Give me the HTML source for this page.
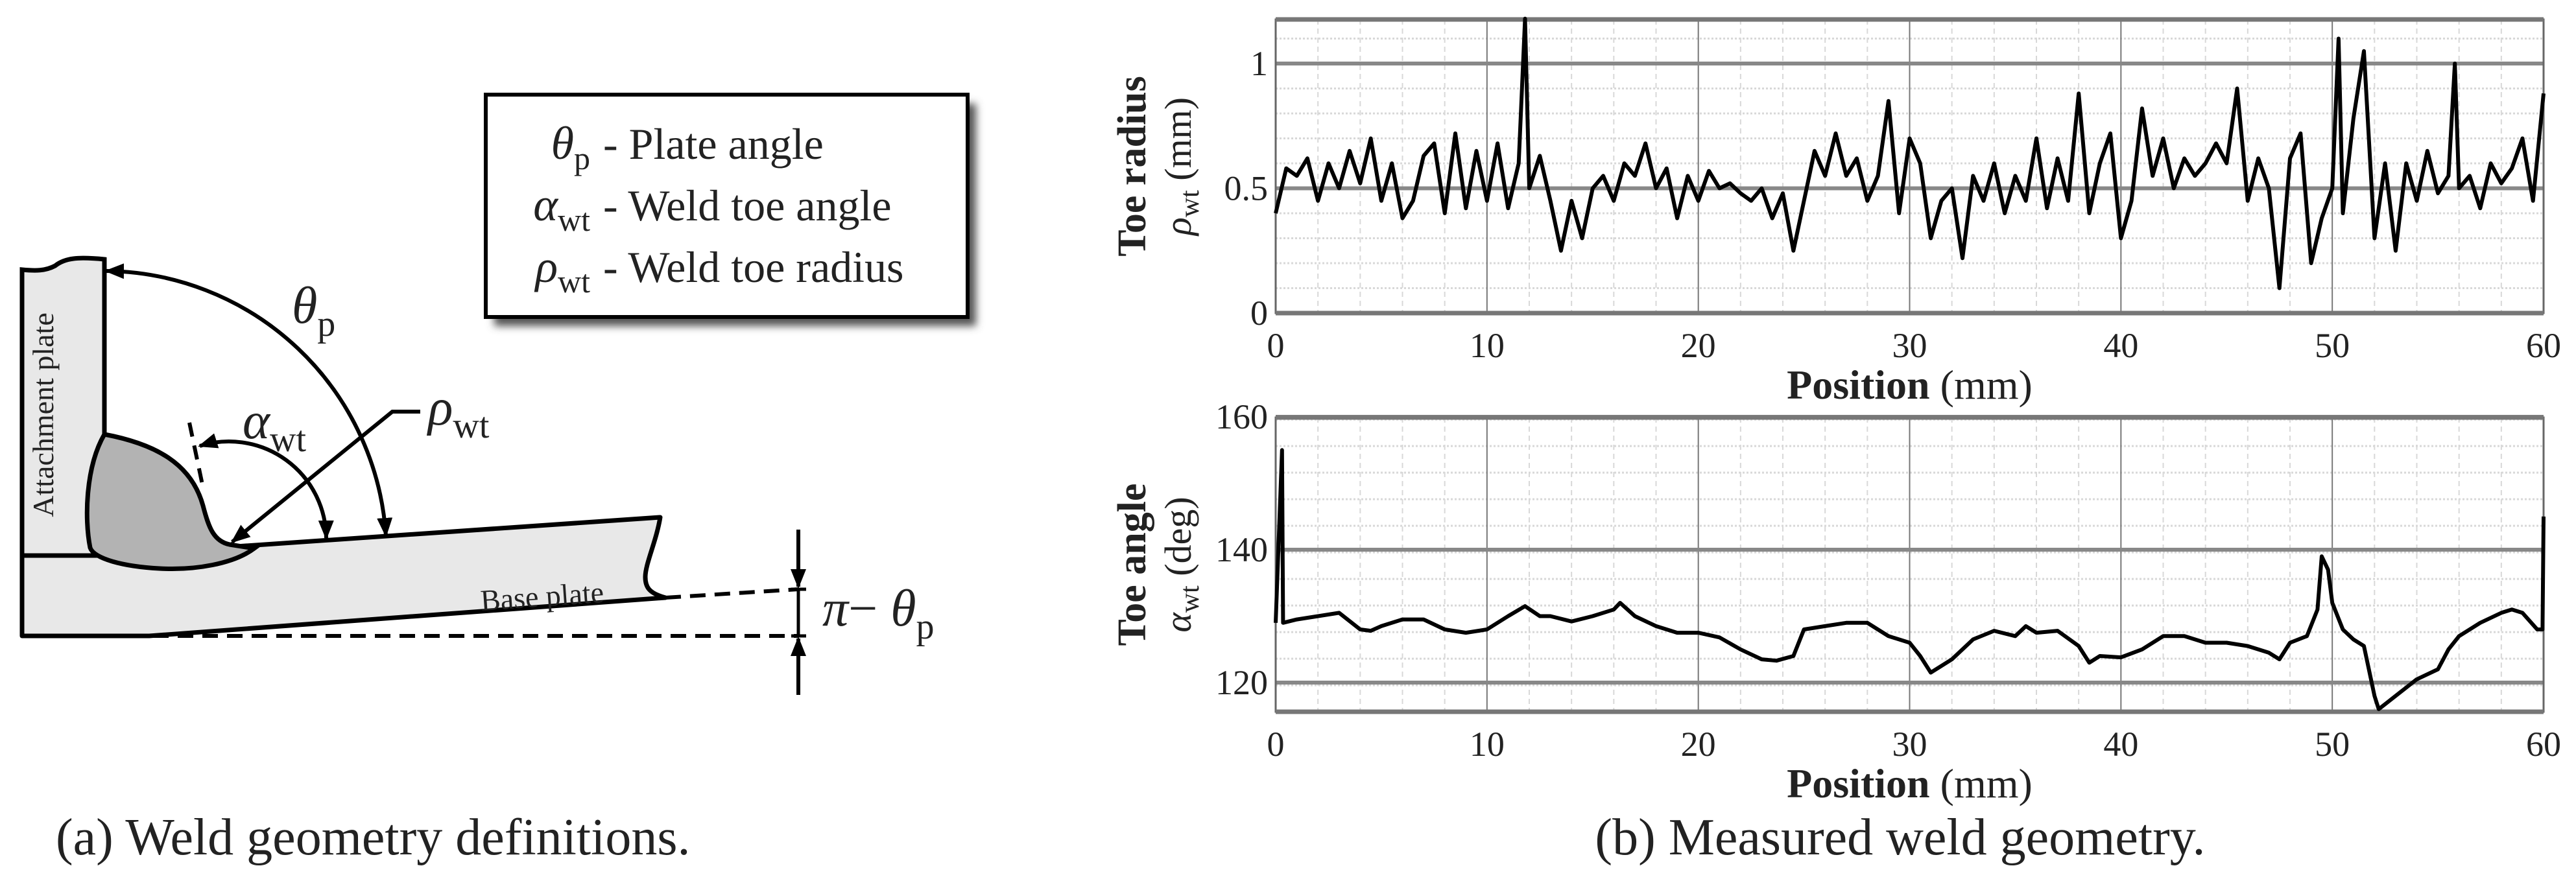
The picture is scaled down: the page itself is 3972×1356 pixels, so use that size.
<!DOCTYPE html>
<html><head><meta charset="utf-8"><style>
html,body{margin:0;padding:0;background:#fff;}
svg{display:block;}
svg text{font-family:"Liberation Serif","DejaVu Serif",serif;fill:#222;}
</style></head><body>
<svg id="fig" width="3972" height="1356" viewBox="0 0 3972 1356" xmlns="http://www.w3.org/2000/svg" font-family="Liberation Serif, DejaVu Serif, serif">
<defs>
<marker id="ah" viewBox="0 0 10 10" refX="9" refY="5" markerWidth="5" markerHeight="5" orient="auto-start-reverse" markerUnits="strokeWidth"><path d="M0,1 L10,5 L0,9 z" fill="#000"/></marker>
<filter id="sh" x="-10%" y="-10%" width="130%" height="130%"><feGaussianBlur stdDeviation="6"/></filter>
</defs>
<g id="diagram">
<path d="M34,857 L34,416 C55,418 70,418 85,410 C100,398 120,396 161,400 L161,857 Z" fill="#e8e8e8" stroke="#000" stroke-width="7"/>
<path d="M34,857 L161,857 L1018,798 C1012,835 995,870 995,890 C995,905 1000,915 1026,922 L230,981 L34,981 Z" fill="#e8e8e8" stroke="#000" stroke-width="7" stroke-linejoin="round"/>
<path d="M161,670 C240,685 295,715 313,780 C322,815 330,835 354,840 L392,846 C360,870 300,880 246,877 C190,874 145,862 139,845 C130,800 132,720 161,670 Z" fill="#b3b3b3" stroke="#000" stroke-width="7"/>
<path d="M595,826 A437,437 0 0 0 164,418" fill="none" stroke="#000" stroke-width="6" marker-start="url(#ah)" marker-end="url(#ah)"/>
<path d="M503,830 A150,150 0 0 0 308,688" fill="none" stroke="#000" stroke-width="6" marker-start="url(#ah)" marker-end="url(#ah)"/>
<line x1="292" y1="652" x2="313" y2="752" stroke="#000" stroke-width="6" stroke-dasharray="22,14"/>
<polyline points="648,635 605,635 358,836" fill="none" stroke="#000" stroke-width="6" marker-end="url(#ah)"/>
<line x1="1026" y1="922" x2="1231" y2="909" stroke="#000" stroke-width="6" stroke-dasharray="24,14"/>
<line x1="236" y1="981" x2="1231" y2="981" stroke="#000" stroke-width="6" stroke-dasharray="24,14"/>
<line x1="1231" y1="817" x2="1231" y2="905" stroke="#000" stroke-width="6" marker-end="url(#ah)"/>
<line x1="1231" y1="1072" x2="1231" y2="985" stroke="#000" stroke-width="6" marker-end="url(#ah)"/>
<line x1="1231" y1="909" x2="1231" y2="981" stroke="#000" stroke-width="5"/>
<line x1="1220" y1="909" x2="1243" y2="909" stroke="#000" stroke-width="5"/>
<line x1="1220" y1="981" x2="1243" y2="981" stroke="#000" stroke-width="5"/>
<text x="0" y="0" font-size="46" text-anchor="middle" transform="translate(82,640) rotate(-90)">Attachment plate</text>
<text x="0" y="0" font-size="46" transform="translate(742,942) rotate(-4)">Base plate</text>
<text x="450" y="498" font-size="80" font-style="italic">θ<tspan font-style="normal" font-size="56" dy="20">p</tspan></text>
<text x="374" y="676" font-size="80" font-style="italic">α<tspan font-style="normal" font-size="56" dy="20">wt</tspan></text>
<text x="660" y="655" font-size="80" font-style="italic">ρ<tspan font-style="normal" font-size="56" dy="20">wt</tspan></text>
<text x="1268" y="965" font-size="80"><tspan font-style="italic">π</tspan>− <tspan font-style="italic">θ</tspan><tspan font-size="56" dy="20">p</tspan></text>
<g>
<rect x="762" y="160" width="743" height="343" fill="#555" filter="url(#sh)"/>
<rect x="749" y="146" width="743" height="343" fill="#fff" stroke="#000" stroke-width="6"/>
<text x="910" y="245" font-size="72" text-anchor="end"><tspan font-style="italic">θ</tspan><tspan font-size="50" dy="16">p</tspan></text>
<text x="930" y="245" font-size="68">- Plate angle</text>
<text x="910" y="340" font-size="72" text-anchor="end"><tspan font-style="italic">α</tspan><tspan font-size="50" dy="16">wt</tspan></text>
<text x="930" y="340" font-size="68">- Weld toe angle</text>
<text x="910" y="435" font-size="72" text-anchor="end"><tspan font-style="italic">ρ</tspan><tspan font-size="50" dy="16">wt</tspan></text>
<text x="930" y="435" font-size="68">- Weld toe radius</text>
</g>
<text x="86" y="1318" font-size="80">(a) Weld geometry definitions.</text>
</g>
<g id="charts"></g>
<text x="2930" y="1318" font-size="80" text-anchor="middle">(b) Measured weld geometry.</text>
</svg>
<script>
const radiusX=[0,0.5,1,1.5,2,2.5,3,3.5,4,4.5,5,5.5,6,6.5,7,7.5,8,8.5,9,9.5,10,10.5,11,11.5,11.8,12,12.5,13,13.5,14,14.5,15,15.5,16,16.5,17,17.5,18,18.5,19,19.5,20,20.5,21,21.5,22,22.5,23,23.5,24,24.5,25,25.5,26,26.5,27,27.5,28,28.5,29,29.5,30,30.5,31,31.5,32,32.5,33,33.5,34,34.5,35,35.5,36,36.5,37,37.5,38,38.5,39,39.5,40,40.5,41,41.5,42,42.5,43,43.5,44,44.5,45,45.5,46,46.5,47,47.5,48,48.5,49,49.5,50,50.3,50.5,51,51.5,52,52.5,53,53.5,54,54.5,55,55.5,55.8,56,56.5,57,57.5,58,58.5,59,59.5,60];
const radiusY=[0.4,0.58,0.55,0.62,0.45,0.6,0.5,0.65,0.52,0.7,0.45,0.6,0.38,0.45,0.63,0.68,0.4,0.72,0.42,0.65,0.45,0.68,0.42,0.6,1.18,0.5,0.63,0.45,0.25,0.45,0.3,0.5,0.55,0.45,0.6,0.55,0.68,0.5,0.58,0.38,0.55,0.45,0.57,0.5,0.52,0.48,0.45,0.5,0.38,0.48,0.25,0.45,0.65,0.55,0.72,0.55,0.62,0.45,0.55,0.85,0.4,0.7,0.6,0.3,0.45,0.5,0.22,0.55,0.45,0.6,0.4,0.55,0.45,0.7,0.42,0.62,0.45,0.88,0.4,0.6,0.72,0.3,0.45,0.82,0.55,0.7,0.5,0.62,0.55,0.6,0.68,0.6,0.9,0.45,0.62,0.5,0.1,0.62,0.72,0.2,0.38,0.5,1.1,0.4,0.78,1.05,0.3,0.6,0.25,0.6,0.45,0.65,0.48,0.55,1.0,0.5,0.55,0.42,0.6,0.52,0.58,0.7,0.45,0.88];
const angleX=[0,0.3,0.35,1,2,3,4,4.5,5,6,7,8,9,10,11,11.8,12.5,13,14,15,16,16.3,17,18,19,20,21,22,23,23.7,24.5,25,26,27,28,29,30,30.5,31,32,33,34,35,35.5,36,37,38,38.5,39,40,41,42,43,44,45,46,47,47.5,48,48.8,49.3,49.5,49.8,50,50.5,51,51.5,52,52.2,53,54,55,55.5,56,57,58,58.5,59,59.7,59.95,60];
const angleY=[129,155,129,129.5,130,130.5,128,127.8,128.5,129.5,129.5,128,127.5,128,130,131.5,130,130,129.2,130,131,132,130,128.5,127.5,127.5,126.8,125,123.5,123.3,124,128,128.5,129,129,127,126,124,121.5,123.5,126.5,127.8,127,128.5,127.5,127.8,125.5,123,124,123.8,125,127,127,126,126,125.5,124.5,123.5,126,127,131,139,137,132,128,126.5,125.5,118,116,118,120.5,122,125,127,129,130.5,131,130.5,128,128,145];
const xTicks=[0,10,20,30,40,50,60];
const radiusTicks=[0,0.5,1];
const angleTicks=[120,140,160];

const NS="http://www.w3.org/2000/svg";
const root=document.getElementById('charts');
function mk(tag,attrs,parent){const e=document.createElementNS(NS,tag);for(const k in attrs)e.setAttribute(k,attrs[k]);(parent||root).appendChild(e);return e;}

function chart(cfg){
  const g=mk('g',{});
  
  
  const L=1967,R=3922;
  const X=v=>L+(v-0)*(R-L)/60;
  const Y=v=>cfg.y0px+(v-cfg.y0)*(cfg.y1px-cfg.y0px)/(cfg.y1-cfg.y0);
  const T=cfg.top,B=cfg.bottom;
  mk('rect',{x:L,y:T,width:R-L,height:B-T,fill:'#fff'},g);
  for(let v=2;v<60;v+=2){if(v%10===0)continue;
    const l=mk('line',{x1:X(v),x2:X(v),y1:T,y2:B,stroke:'#d8d8d8','stroke-width':2,'stroke-dasharray':'8,6'},g);
    
    }
  for(let v=cfg.ymin;v<=cfg.ymax+1e-9;v+=cfg.minor){
    const yy=Y(v); if(yy<T+2||yy>B-2)continue;
    const l=mk('line',{x1:L,x2:R,y1:yy,y2:yy,stroke:'#d8d8d8','stroke-width':3,'stroke-dasharray':'3,3'},g);
    
    }
  xTicks.forEach(v=>{
    const l=mk('line',{x1:X(v),x2:X(v),y1:T,y2:B,stroke:'#777','stroke-width':2},g);
    
    
    const t=mk('text',{x:X(v),y:B+68,'font-size':54,'text-anchor':'middle'},g);
    t.textContent=v;
    
    
  });
  cfg.ticks.forEach(v=>{
    const yy=Y(v);
    const l=mk('line',{x1:L,x2:R,y1:yy,y2:yy,stroke:'#888','stroke-width':6},g);
    
    
    const t=mk('text',{x:L-12,y:yy+18,'font-size':54,'text-anchor':'end'},g);
    t.textContent=v;
    
    
  });
  const fr=mk('rect',{x:L,y:T,width:R-L,height:B-T,fill:'none',stroke:'#666','stroke-width':3},g);
  
  
  mk('line',{x1:L,x2:R,y1:T,y2:T,stroke:'#777','stroke-width':7},g);
  mk('line',{x1:L,x2:R,y1:B,y2:B,stroke:'#777','stroke-width':7},g);
  const pts=cfg.xs.map((x,i)=>X(x).toFixed(1)+','+Y(Math.max(cfg.ymin,cfg.ys[i])).toFixed(1)).join(' ');
  const pl=mk('polyline',{points:pts,fill:'none',stroke:'#000','stroke-width':6,'stroke-linejoin':'round'},g);
  
  
  const xt=mk('text',{x:(L+R)/2,y:B+132,'font-size':64,'text-anchor':'middle'},g);
  xt.innerHTML='<tspan font-weight="bold">Position</tspan> (mm)';
  
  
  const cy=(T+B)/2;
  const yt=mk('text',{x:0,y:0,'font-size':62,'font-weight':'bold','text-anchor':'middle',transform:`translate(1766,${cy}) rotate(-90)`},g);
  yt.textContent=cfg.title;
  
  
  const ys=mk('text',{x:0,y:0,'font-size':58,'text-anchor':'middle',transform:`translate(1836,${cy}) rotate(-90)`},g);
  ys.innerHTML=`<tspan font-style="italic">${cfg.sym}</tspan><tspan font-size="42" dy="12">wt</tspan><tspan dy="-12"> (${cfg.unit})</tspan>`;
  
  
}
chart({name:'toe-radius-chart',series:'toe-radius-line',xs:radiusX,ys:radiusY,y0:0,y1:1,y0px:483,y1px:98,top:30,bottom:483,ymin:0,ymax:1.18,minor:0.1,ticks:radiusTicks,title:'Toe radius',sym:'ρ',unit:'mm'});
chart({name:'toe-angle-chart',series:'toe-angle-line',xs:angleX,ys:angleY,y0:120,y1:140,y0px:1053,y1px:848,top:644,bottom:1098,ymin:115.6,ymax:160,minor:4,ticks:angleTicks,title:'Toe angle',sym:'α',unit:'deg'});
</script>
</body></html>
